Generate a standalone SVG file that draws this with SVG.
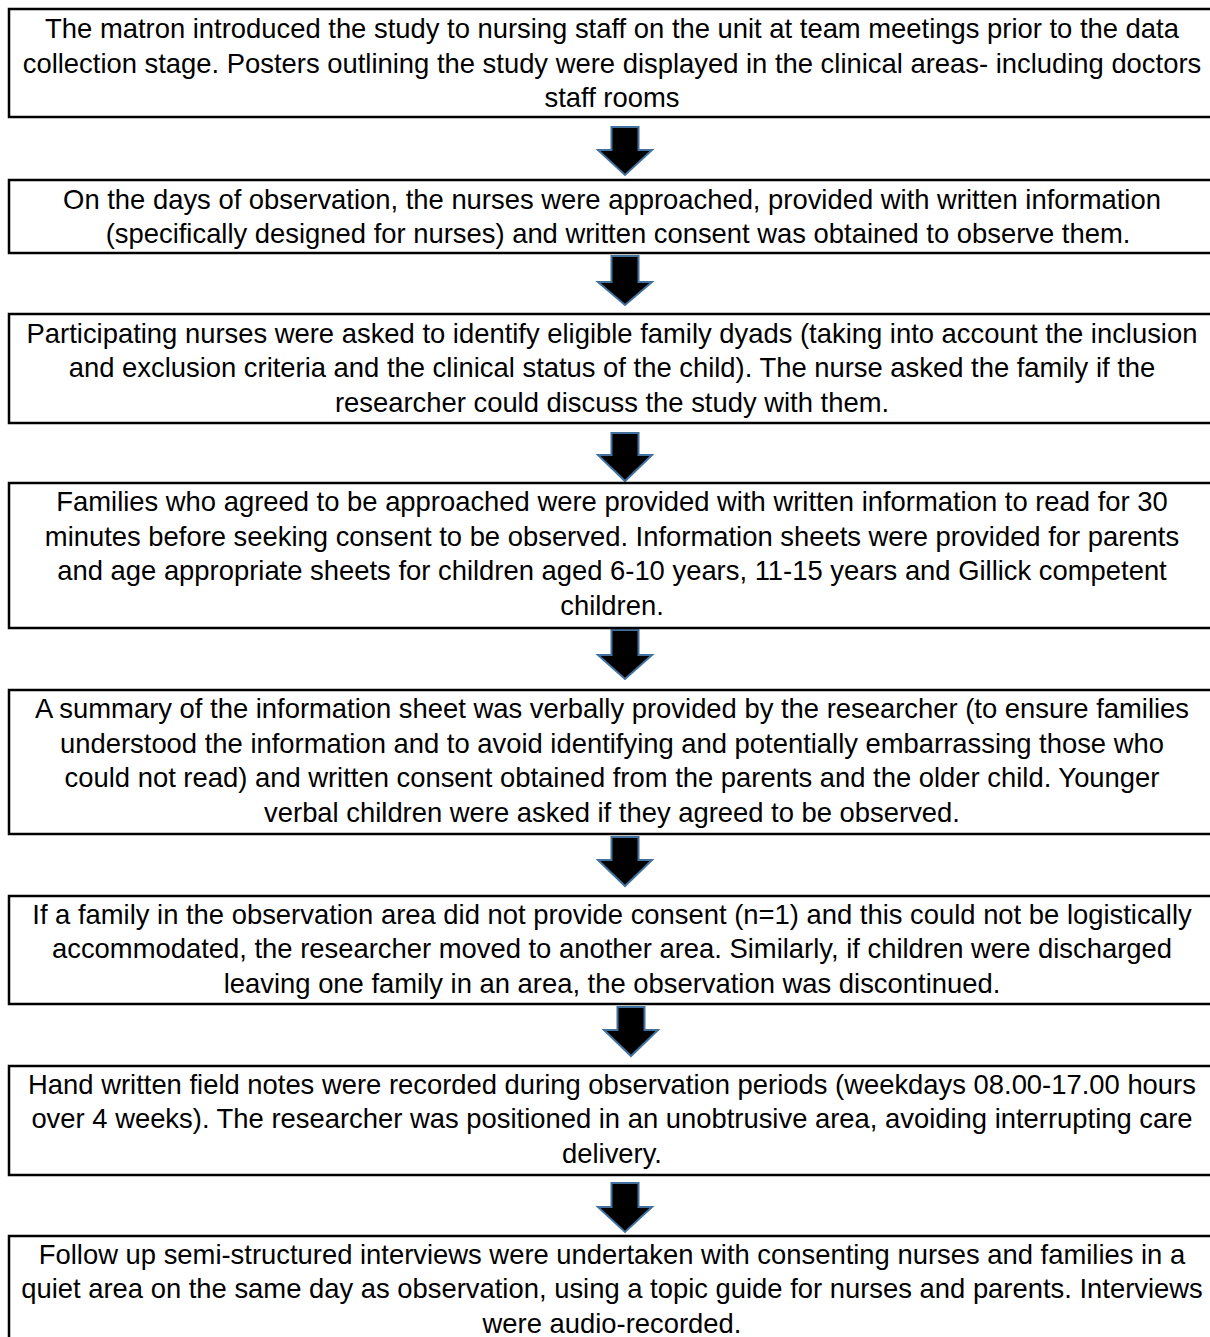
<svg xmlns="http://www.w3.org/2000/svg" width="1210" height="1337" viewBox="0 0 1210 1337">
<style>
.box{fill:#fff;stroke:#000;stroke-width:2.5}
.t{font-family:"Liberation Sans",Arial,sans-serif;font-size:27.4px;fill:#000;text-anchor:middle}
.arr{fill:#000;stroke:#41719C;stroke-width:2;stroke-linejoin:miter}
</style>
<rect x="0" y="0" width="1210" height="1337" fill="#fff"/>
<g id="connectors">
<path class="arr" d="M611.5,127 H638.5 V150 H652 L625,175 L598,150 H611.5 Z"/>
<path class="arr" d="M611.5,256 H638.5 V282 H652 L625,305 L598,282 H611.5 Z"/>
<path class="arr" d="M611.5,433 H638.5 V455 H652 L625,481 L598,455 H611.5 Z"/>
<path class="arr" d="M611.5,630 H638.5 V655 H652 L625,679 L598,655 H611.5 Z"/>
<path class="arr" d="M611.5,837 H638.5 V860 H652 L625,886 L598,860 H611.5 Z"/>
<path class="arr" d="M617.5,1007 H644.5 V1030 H658 L631,1056 L604,1030 H617.5 Z"/>
<path class="arr" d="M611.5,1183 H638.5 V1207 H652 L625,1232 L598,1207 H611.5 Z"/>
</g>
<g id="n1">
<rect class="box" x="9" y="9" width="1215" height="108"/>
<text class="t" x="612" y="38">The matron introduced the study to nursing staff on the unit at team meetings prior to the data</text>
<text class="t" x="612" y="72.5">collection stage. Posters outlining the study were displayed in the clinical areas- including doctors</text>
<text class="t" x="612" y="107">staff rooms</text>
</g>
<g id="n2">
<rect class="box" x="9" y="180" width="1215" height="73"/>
<text class="t" x="612" y="208.5">On the days of observation, the nurses were approached, provided with written information</text>
<text class="t" x="618" y="243">(specifically designed for nurses) and written consent was obtained to observe them.</text>
</g>
<g id="n3">
<rect class="box" x="9" y="314" width="1215" height="109"/>
<text class="t" x="612" y="342.5">Participating nurses were asked to identify eligible family dyads (taking into account the inclusion</text>
<text class="t" x="612" y="377">and exclusion criteria and the clinical status of the child). The nurse asked the family if the</text>
<text class="t" x="612" y="411.5">researcher could discuss the study with them.</text>
</g>
<g id="n4">
<rect class="box" x="9" y="483" width="1215" height="145"/>
<text class="t" x="612" y="511">Families who agreed to be approached were provided with written information to read for 30</text>
<text class="t" x="612" y="545.5">minutes before seeking consent to be observed. Information sheets were provided for parents</text>
<text class="t" x="612" y="580">and age appropriate sheets for children aged 6-10 years, 11-15 years and Gillick competent</text>
<text class="t" x="612" y="614.5">children.</text>
</g>
<g id="n5">
<rect class="box" x="9" y="690" width="1215" height="144"/>
<text class="t" x="612" y="718">A summary of the information sheet was verbally provided by the researcher (to ensure families</text>
<text class="t" x="612" y="752.5">understood the information and to avoid identifying and potentially embarrassing those who</text>
<text class="t" x="612" y="787">could not read) and written consent obtained from the parents and the older child. Younger</text>
<text class="t" x="612" y="821.5">verbal children were asked if they agreed to be observed.</text>
</g>
<g id="n6">
<rect class="box" x="9" y="896" width="1215" height="108"/>
<text class="t" x="612" y="923.5">If a family in the observation area did not provide consent (n=1) and this could not be logistically</text>
<text class="t" x="612" y="958">accommodated, the researcher moved to another area. Similarly, if children were discharged</text>
<text class="t" x="612" y="992.5">leaving one family in an area, the observation was discontinued.</text>
</g>
<g id="n7">
<rect class="box" x="9" y="1066" width="1215" height="109"/>
<text class="t" x="612" y="1093.5">Hand written field notes were recorded during observation periods (weekdays 08.00-17.00 hours</text>
<text class="t" x="612" y="1128">over 4 weeks). The researcher was positioned in an unobtrusive area, avoiding interrupting care</text>
<text class="t" x="612" y="1162.5">delivery.</text>
</g>
<g id="n8">
<rect class="box" x="9" y="1236" width="1215" height="120"/>
<text class="t" x="612" y="1263.5">Follow up semi-structured interviews were undertaken with consenting nurses and families in a</text>
<text class="t" x="612" y="1298">quiet area on the same day as observation, using a topic guide for nurses and parents. Interviews</text>
<text class="t" x="612" y="1332.5">were audio-recorded.</text>
</g>
</svg>
